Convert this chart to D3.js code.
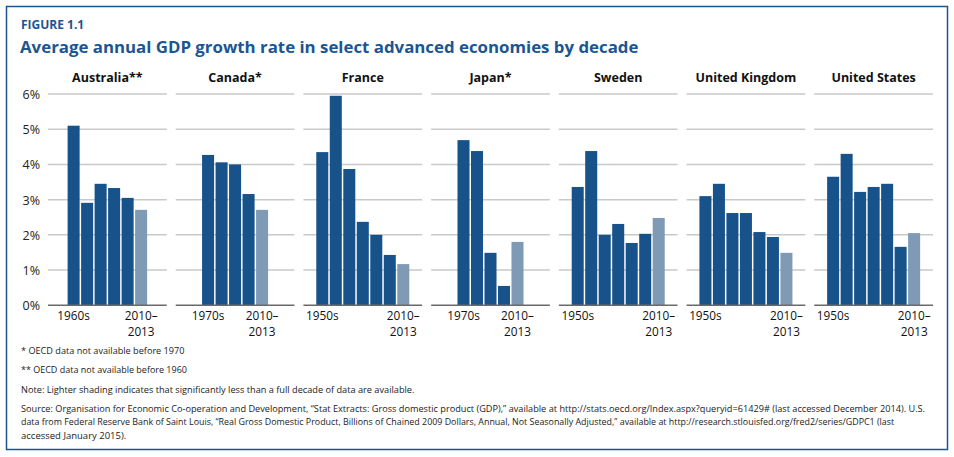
<!DOCTYPE html>
<html><head><meta charset="utf-8">
<script src="https://cdn.jsdelivr.net/npm/d3@7"></script>
<style>
html,body{margin:0;padding:0;background:#fff;}
svg{display:block;}
</style></head>
<body>
<svg id="chart" width="954" height="457"></svg>
<script>
// ---- data ----
const countries = ["Australia","Canada","France","Japan","Sweden","United Kingdom","United States"];
const countryLabels = ["Australia**","Canada*","France","Japan*","Sweden","United Kingdom","United States"];
const decades = ["1950s","1960s","1970s","1980s","1990s","2000s","2010–2013"];
const partialDecade = "2010–2013";
const australia = [5.10, 2.91, 3.45, 3.33, 3.05, 2.71];          // from 1960s
const canada = [4.27, 4.06, 4.00, 3.16, 2.71];                  // from 1970s
const france = [4.35, 5.95, 3.87, 2.37, 2.00, 1.43, 1.17];
const japan = [4.69, 4.38, 1.49, 0.55, 1.80];                   // from 1970s
const sweden = [3.36, 4.38, 2.00, 2.31, 1.77, 2.03, 2.48];
const unitedKingdom = [3.10, 3.45, 2.62, 2.62, 2.08, 1.94, 1.49];
const unitedStates = [3.65, 4.30, 3.22, 3.36, 3.45, 1.66, 2.05];
const yTicks = [0,1,2,3,4,5,6];
const footnotes = [
  "* OECD data not available before 1970",
  "** OECD data not available before 1960",
  "Note: Lighter shading indicates that significantly less than a full decade of data are available."
];
const sourceLines = [
  "Source: Organisation for Economic Co-operation and Development, “Stat Extracts: Gross domestic product (GDP),” available at http://stats.oecd.org/Index.aspx?queryid=61429# (last accessed December 2014). U.S.",
  "data from Federal Reserve Bank of Saint Louis, “Real Gross Domestic Product, Billions of Chained 2009 Dollars, Annual, Not Seasonally Adjusted,” available at http://research.stlouisfed.org/fred2/series/GDPC1 (last",
  "accessed January 2015)."
];

const seriesValues = [australia, canada, france, japan, sweden, unitedKingdom, unitedStates];
const series = countries.map((c, i) => {
  const vals = seriesValues[i];
  const ds = decades.slice(decades.length - vals.length);
  return {country: c, label: countryLabels[i], decades: ds,
          bars: vals.map((v, j) => ({decade: ds[j], value: v}))};
});

// ---- layout ----
const BLUE = "#1b5592", DARK = "#17528a", LIGHT = "#7f9ab5";
const svg = d3.select("#chart");
const font = "'Open Sans', 'Noto Sans', sans-serif";

// fit text to a target width by shrinking its font size (never stretching glyphs)
function fitText(sel, target, maxSize) {
  sel.attr("font-size", maxSize);
  const w = sel.node().getComputedTextLength();
  if (w > target) sel.attr("font-size", (maxSize * target / w).toFixed(2));
  return sel;
}

svg.append("rect").attr("x", 6.5).attr("y", 6.5).attr("width", 941).attr("height", 443)
  .attr("fill", "none").attr("stroke", BLUE).attr("stroke-width", 1.5);

fitText(svg.append("text").attr("x", 21).attr("y", 29).text("FIGURE 1.1")
  .attr("font-family", font).attr("font-weight", 700).attr("fill", BLUE), 68, 12);
fitText(svg.append("text").attr("x", 20).attr("y", 53)
  .text("Average annual GDP growth rate in select advanced economies by decade")
  .attr("font-family", font).attr("font-weight", 700).attr("fill", BLUE), 619, 20);

const y = d3.scaleLinear().domain([0, 6]).range([305.3, 94]);
const panelX = d3.scaleBand().domain(countries).range([48, 933]).paddingInner(0.0703);
const BAR_STEP = 13.5;

// y axis labels
const yAxis = svg.append("g").attr("transform", "translate(40,0)")
  .call(d3.axisLeft(y).tickValues(yTicks).tickSize(0).tickPadding(0).tickFormat(d => d + "%"));
yAxis.select(".domain").remove();
yAxis.selectAll("text").attr("font-family", font).attr("font-size", 12.5).attr("fill", "#222")
  .attr("dy", "0.36em");

series.forEach(s => {
  const x0 = panelX(s.country), w = panelX.bandwidth();
  const g = svg.append("g");
  // title
  g.append("text").attr("x", x0 + w / 2).attr("y", 82).attr("text-anchor", "middle")
    .text(s.label).attr("font-family", font).attr("font-weight", 700).attr("font-size", 12.5)
    .attr("fill", "#111");
  // gridlines
  g.selectAll("line.grid").data(yTicks.filter(t => t > 0)).join("line")
    .attr("x1", x0).attr("x2", x0 + w).attr("y1", d => y(d)).attr("y2", d => y(d))
    .attr("stroke", "#c9c9c9").attr("stroke-width", 1.5);
  // inner scale
  const n = s.decades.length, cx = x0 + w / 2;
  const xb = d3.scaleBand().domain(s.decades)
    .range([cx - n * BAR_STEP / 2, cx + n * BAR_STEP / 2]).paddingInner(0.11).paddingOuter(0.055);
  g.selectAll("rect.bar").data(s.bars).join("rect")
    .attr("x", d => xb(d.decade)).attr("width", xb.bandwidth())
    .attr("y", d => y(d.value)).attr("height", d => y(0) - y(d.value))
    .attr("fill", d => d.decade === partialDecade ? LIGHT : DARK);
  // baseline
  g.append("line").attr("x1", x0).attr("x2", x0 + w).attr("y1", y(0)).attr("y2", y(0))
    .attr("stroke", "#6a6a6a").attr("stroke-width", 1.5);
  // x axis (first and last labels)
  const ax = g.append("g").attr("transform", `translate(0,${y(0)})`)
    .call(d3.axisBottom(xb).tickValues([s.decades[0], s.decades[n - 1]]).tickSize(0).tickPadding(0).tickFormat(() => ""));
  ax.select(".domain").remove();
  ax.selectAll(".tick").each(function(d) {
    const tick = d3.select(this);
    tick.select("text").remove();
    const parts = d.split("–");
    const lines = parts.length === 2 ? [parts[0] + "–", parts[1]] : [d];
    lines.forEach((ln, k) => {
      tick.append("text").attr("x", 0).attr("y", 15 + k * 16.2).attr("text-anchor", "middle")
        .attr("font-family", font).attr("font-size", 11.8).attr("fill", "#111").text(ln);
    });
  });
});

// footnotes
const footY = [354, 373, 393];
const footW = [164, 166, 394];
footnotes.forEach((t, i) => {
  fitText(svg.append("text").attr("x", 21).attr("y", footY[i]).text(t)
    .attr("font-family", font).attr("fill", "#222"), footW[i], 9.5);
});
const srcY = [412, 425, 439];
const srcW = [906, 875, 110];
sourceLines.forEach((t, i) => {
  fitText(svg.append("text").attr("x", 21).attr("y", srcY[i]).text(t)
    .attr("font-family", font).attr("fill", "#222"), srcW[i], 9.5);
});
</script>
</body></html>
